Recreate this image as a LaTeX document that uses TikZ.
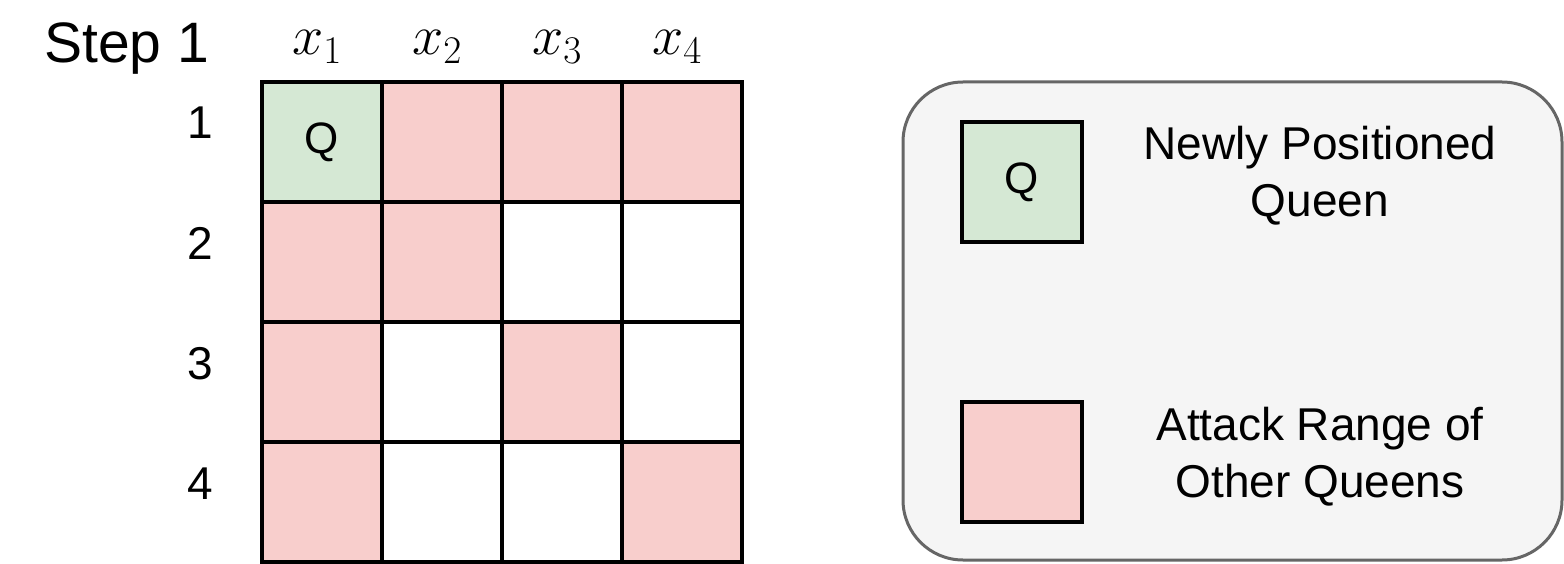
\RequirePackage{fix-cm}
\documentclass[tikz,border=0pt]{standalone}
\usepackage[no-math]{fontspec}
\newfontfamily\arialfont{Liberation Sans}
\definecolor{queengreen}{HTML}{D5E8D4}
\definecolor{attackred}{HTML}{F8CECC}
\definecolor{legendfill}{HTML}{F5F5F5}
\definecolor{legendline}{HTML}{666666}
\tikzset{
  cell/.style={draw,line width=4pt,minimum size=120pt,inner sep=0pt,
    font=\arialfont\fontsize{44}{50}\selectfont},
  rowlabel/.style={anchor=base,inner sep=0pt,font=\arialfont\fontsize{46}{52}\selectfont},
  collabel/.style={anchor=base,inner sep=0pt,font=\fontsize{56}{60}\selectfont},
  steplabel/.style={anchor=base west,inner sep=0pt,font=\arialfont\fontsize{57}{64}\selectfont},
  keytext/.style={align=center,inner sep=0pt,font=\arialfont\fontsize{46}{57}\selectfont},
  legendbox/.style={draw=legendline,fill=legendfill,line width=3pt,rounded corners=60pt}
}
\begin{document}
\begin{tikzpicture}[x=1pt,y=-1pt]
\useasboundingbox (0,0) rectangle (1564,564);
% legend frame
\node[legendbox,minimum width=659pt,minimum height=478pt] (legend) at (1232.5,321) {};
% board
\foreach \r/\c/\col in {1/1/queengreen,1/2/attackred,1/3/attackred,1/4/attackred,
  2/1/attackred,2/2/attackred,2/3/white,2/4/white,
  3/1/attackred,3/2/white,3/3/attackred,3/4/white,
  4/1/attackred,4/2/white,4/3/white,4/4/attackred}
  \node[cell,fill=\col] (c\r\c) at ({202+120*\c},{22+120*\r}) {};
\node[cell,draw=none] (q) at (c11) {Q};
\foreach \c in {1,...,4}
  \node[collabel] (x\c) at ({197+120*\c},55) {$x_{\c}$};
\foreach \r in {1,...,4}
  \node[rowlabel] (r\r) at (200,{19+120*\r}) {\r};
\node[steplabel] (step) at (44,63) {Step 1};
% legend entries
\node[cell,fill=queengreen] (keyq) at (1022,182) {Q};
\node[cell,fill=attackred] (keya) at (1022,462) {};
\node[keytext] (keyqtext) at (1320,176) {Newly Positioned\\Queen};
\node[keytext] (keyatext) at (1320,457) {Attack Range of\\Other Queens};
\end{tikzpicture}
\end{document}
